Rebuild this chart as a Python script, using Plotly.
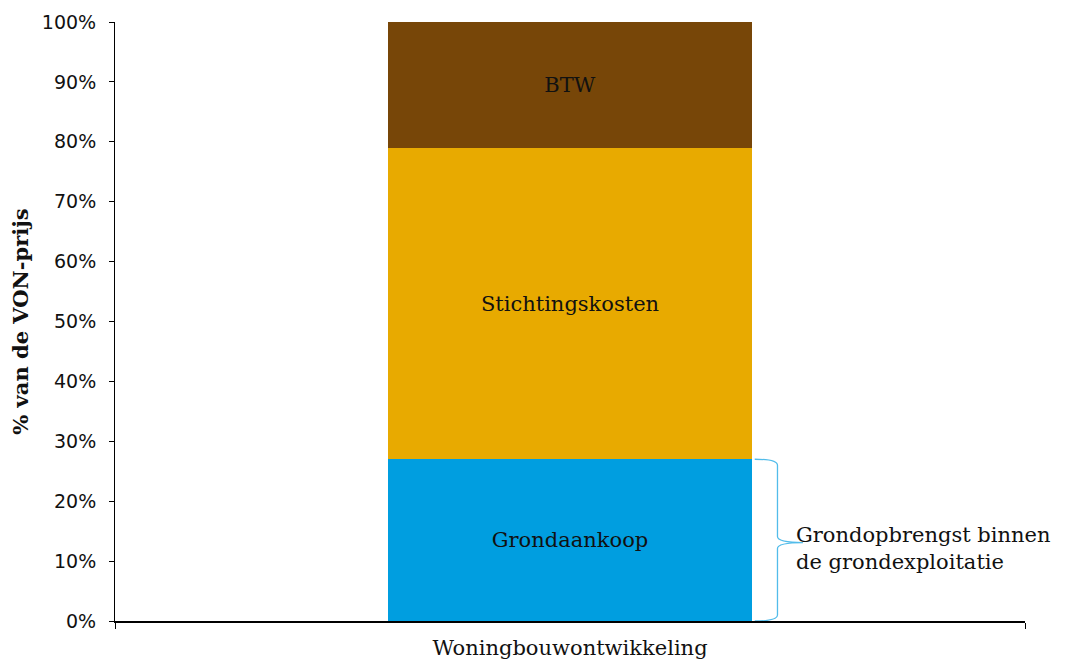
import plotly.graph_objects as go

# Data
categorie = ["Woningbouwontwikkeling"]
onderdelen = ["Grondaankoop", "Stichtingskosten", "BTW"]
aandeel = [27, 52, 21]  # % van de VON-prijs
kleuren = ["#009EE0", "#E8AA00", "#774608"]
y_ticks = [0, 10, 20, 30, 40, 50, 60, 70, 80, 90, 100]
y_labels = [f"{v}%" for v in y_ticks]
brace_tekst = "Grondopbrengst binnen<br>de grondexploitatie"

serif = "DejaVu Serif"
sans = "DejaVu Sans"

fig = go.Figure()
for naam, waarde, kleur in zip(onderdelen, aandeel, kleuren):
    fig.add_trace(go.Bar(
        x=categorie,
        y=[waarde],
        name=naam,
        marker=dict(color=kleur, line=dict(width=0)),
        text=[naam],
        textposition="inside",
        insidetextanchor="middle",
        textfont=dict(family=serif, size=21, color="#111111"),
        width=0.4,
        hoverinfo="name+y",
    ))

# accolade rechts van de grondaankoop
top = aandeel[0]
mid = top / 2
x0, xm, xt = 0.203, 0.228, 0.256
pad = (f"M {x0},{top} Q {xm},{top} {xm},{top - 1} "
       f"L {xm},{mid + 0.6} Q {xm},{mid - 0.4} {xt},{mid - 0.4} "
       f"Q {xm},{mid - 0.4} {xm},{mid - 1.4} "
       f"L {xm},1 Q {xm},0 {x0},0")
fig.add_shape(type="path", path=pad, xref="x", yref="y",
              line=dict(color="#52BCEA", width=1.3))
fig.add_annotation(x=0.246, y=mid, xref="x", yref="y", yshift=-8, text=brace_tekst,
                   showarrow=False, xanchor="left", yanchor="middle", align="left",
                   font=dict(family=serif, size=21, color="#111111"))

# pagina heeft 8px marge, dus figuur iets kleiner dan het venster
fig.update_layout(
    barmode="stack",
    width=1050, height=656,
    margin=dict(l=107, r=33, t=14, b=43, autoexpand=False),
    plot_bgcolor="white", paper_bgcolor="white",
    showlegend=False,
)
fig.update_xaxes(
    type="category", range=[-0.5, 0.5], automargin=False,
    showline=True, linecolor="black", linewidth=2,
    ticks="outside", tickson="boundaries", ticklen=6, tickcolor="black",
    ticklabelstandoff=7,
    tickfont=dict(family=serif, size=21, color="#111111"),
    showgrid=False,
)
fig.update_yaxes(
    range=[0, 100], tickmode="array", tickvals=y_ticks, ticktext=y_labels,
    automargin=False,
    showline=True, linecolor="black", linewidth=1,
    ticks="outside", ticklen=5, tickcolor="black", ticklabelstandoff=9,
    tickfont=dict(family=sans, size=19, color="#111111"),
    showgrid=False, zeroline=False,
    title=dict(text="<b>% van de VON-prijs</b>", standoff=8,
               font=dict(family=serif, size=21, color="#111111")),
)

fig.write_html("out.html")
